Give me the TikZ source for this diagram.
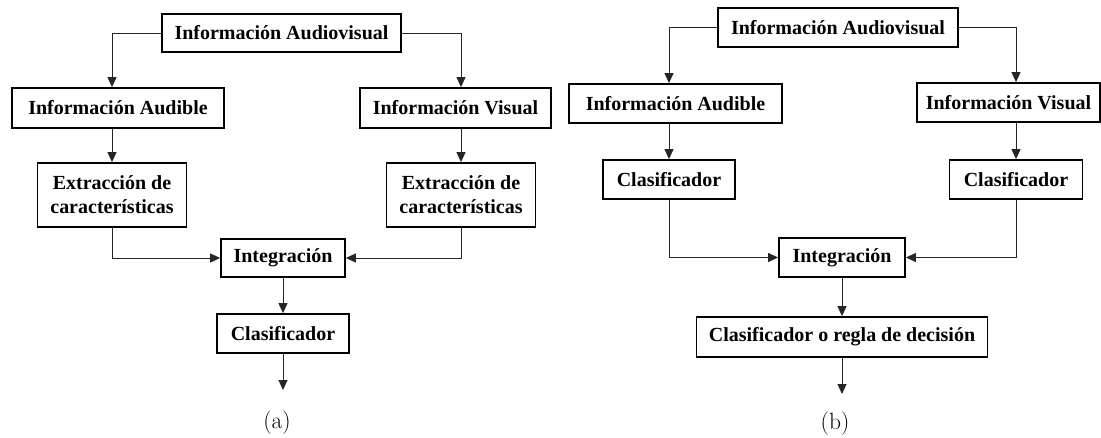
\documentclass[tikz,border=0pt]{standalone}
\usepackage{fontspec}
\newfontfamily\boxfont{Liberation Serif}
\usetikzlibrary{arrows.meta}
\tikzset{%
  myedge/.style={-{Triangle[length=10pt,width=9pt]}, line width=1pt, draw=black!85},
  mybox/.style={rectangle, draw=black, line width=1.8pt, inner sep=0pt, minimum height=39pt,
    align=center, font=\boxfont\bfseries\fontsize{20}{24}\selectfont},
  mycap/.style={font=\fontsize{23.5}{28}\selectfont}
}

\begin{document}
\begin{tikzpicture}[x=1pt,y=-1pt]
\useasboundingbox (0,0) rectangle (1101,437);

% (a) feature fusion
\node [mybox, minimum width=239pt, minimum height=38pt] (aTop) at (281.5,33) {Información Audiovisual};
\node [mybox, minimum width=212pt, minimum height=40pt] (aAud) at (118,108) {Información Audible};
\node [mybox, minimum width=191pt, minimum height=40pt] (aVis) at (455.5,108) {Información Visual};
\node [mybox, minimum width=149pt, minimum height=64pt] (aExtL) at (112,195) {Extracción de\\características};
\node [mybox, minimum width=149pt, minimum height=64pt] (aExtR) at (461,195) {Extracción de\\características};
\node [mybox, minimum width=124pt, minimum height=38pt] (aInt) at (283,258) {Integración};
\node [mybox, minimum width=132pt] (aClas) at (283,333.5) {Clasificador};
\coordinate (aOut) at (283,390);
\node [mycap] (aCap) at (277,423) {(a)};

\draw [myedge] (aTop.west) -| (aExtL.north |- aAud.north);
\draw [myedge] (aTop.east) -| (aExtR.north |- aVis.north);
\draw [myedge] (aAud.south -| aExtL.north) -- (aExtL.north);
\draw [myedge] (aVis.south -| aExtR.north) -- (aExtR.north);
\draw [myedge] (aExtL.south) |- (aInt.west);
\draw [myedge] (aExtR.south) |- (aInt.east);

% (b) decision fusion
\node [mybox, minimum width=240pt] (bTop) at (838,27.5) {Información Audiovisual};
\node [mybox, minimum width=213pt] (bAud) at (675.5,103.5) {Información Audible};
\node [mybox, minimum width=183pt] (bVis) at (1008.5,102.5) {Información Visual};
\node [mybox, minimum width=132pt] (bClasL) at (669,179.5) {Clasificador};
\node [mybox, minimum width=133pt] (bClasR) at (1016,179.5) {Clasificador};
\node [mybox, minimum width=126pt] (bInt) at (842,257.5) {Integración};
\node [mybox, minimum width=291pt, minimum height=40pt] (bRule) at (842,337) {Clasificador o regla de decisión};
\coordinate (bOut) at (842,394);
\node [mycap] (bCap) at (835,424) {(b)};

\draw [myedge] (bTop.west) -| (bClasL.north |- bAud.north);
\draw [myedge] (bTop.east) -| (bClasR.north |- bVis.north);
\draw [myedge] (bAud.south -| bClasL.north) -- (bClasL.north);
\draw [myedge] (bVis.south -| bClasR.north) -- (bClasR.north);
\draw [myedge] (bClasL.south) |- (bInt.west);
\draw [myedge] (bClasR.south) |- (bInt.east);

% straight drops
\foreach \u/\v in {aInt/aClas.north, aClas/aOut, bInt/bRule.north, bRule/bOut} {
  \draw [myedge] (\u.south) -- (\v);
}

\end{tikzpicture}
\end{document}
